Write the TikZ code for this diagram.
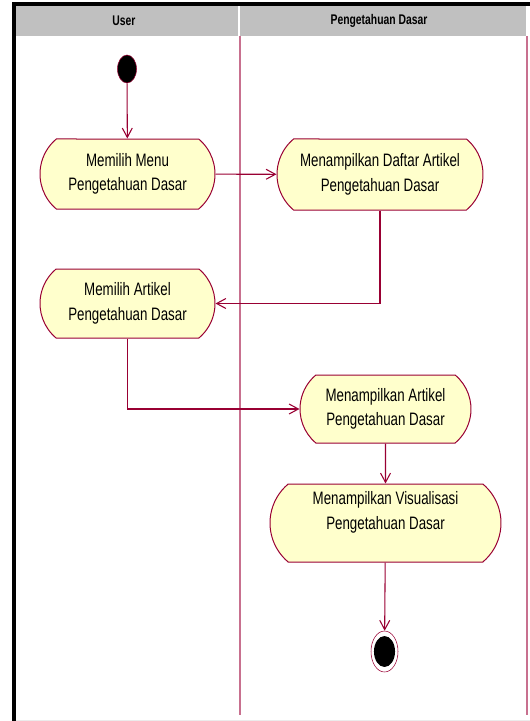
\documentclass[tikz,border=0pt]{standalone}
\usepackage{fontspec}
\newfontfamily\umlfont[FakeStretch=0.74]{Liberation Sans}
\usetikzlibrary{shapes.misc,shapes.geometric,arrows.meta}
\definecolor{umlline}{HTML}{990033}
\definecolor{lanepink}{HTML}{C8708F}
\definecolor{actfill}{HTML}{FFFFCC}
\definecolor{headgray}{HTML}{C0C0C0}

\begin{document}
\begin{tikzpicture}[x=0.75pt,y=-0.75pt,
  activity/.style={rounded rectangle, rounded rectangle arc length=100, draw=umlline, fill=actfill, line width=0.75pt, align=center, inner sep=0pt, font=\umlfont\fontsize{13.5}{18.5}\selectfont},
  flow/.style={draw=umlline, line width=0.8pt, -{Straight Barb[length=7pt,width=7.5pt]}},
  lane/.style={draw=lanepink, line width=1pt},
  lanehead/.style={font=\umlfont\bfseries\fontsize{10.5}{12}\selectfont}]
\useasboundingbox (0,0) rectangle (530,721);
\fill[headgray] (15,6) rectangle (526,36);
\draw[white, line width=1pt] (239,6) -- (239,36);
\draw[lane] (240,36) -- (240,715);
\draw[lane] (527,36) -- (527,715);
\draw[black!8] (15,720) -- (530,720);
\draw[line width=3pt] (13.5,721) -- (13.5,4) -- (530,4);

\node[lanehead] (laneuser) at (124,21) {User};
\node[lanehead] (lanesistem) at (379,21) {Pengetahuan Dasar};

\node[ellipse, fill=black, draw=umlline, inner sep=0pt, minimum width=14.25pt, minimum height=21pt] (mulai) at (127,69) {};
\node[activity, minimum width=131.25pt, minimum height=52.5pt] (pilihmenu) at (127.5,174) {Memilih Menu\\Pengetahuan Dasar};
\node[activity, minimum width=154.5pt, minimum height=53.25pt] (daftar) at (380,174.5) {Menampilkan Daftar Artikel\\Pengetahuan Dasar};
\node[activity, minimum width=131.25pt, minimum height=51.75pt] (pilihartikel) at (127.5,303.5) {Memilih Artikel\\Pengetahuan Dasar};
\node[activity, minimum width=128.25pt, minimum height=51pt] (tampilartikel) at (385.5,409) {Menampilkan Artikel\\Pengetahuan Dasar};
\node[activity, minimum width=173.25pt, minimum height=58.5pt] (visualisasi) at (385.5,523) {Menampilkan Visualisasi\\Pengetahuan Dasar\\ \mbox{}};
\node[ellipse, draw=umlline, fill=white, inner sep=0pt, minimum width=20.25pt, minimum height=30.75pt,
  path picture={\fill[black] (path picture bounding box.center) ellipse [x radius=7.9pt, y radius=11.6pt];}] (selesai) at (384.5,651.5) {};

\draw[flow] (mulai) -- (pilihmenu);
\draw[flow] (pilihmenu) -- (daftar);
\draw[flow] (daftar.south) |- (pilihartikel.east);
\draw[flow] (pilihartikel.south) |- (tampilartikel.west);
\draw[flow] (tampilartikel) -- (visualisasi);
\draw[flow] (visualisasi) -- (selesai);
\end{tikzpicture}
\end{document}
